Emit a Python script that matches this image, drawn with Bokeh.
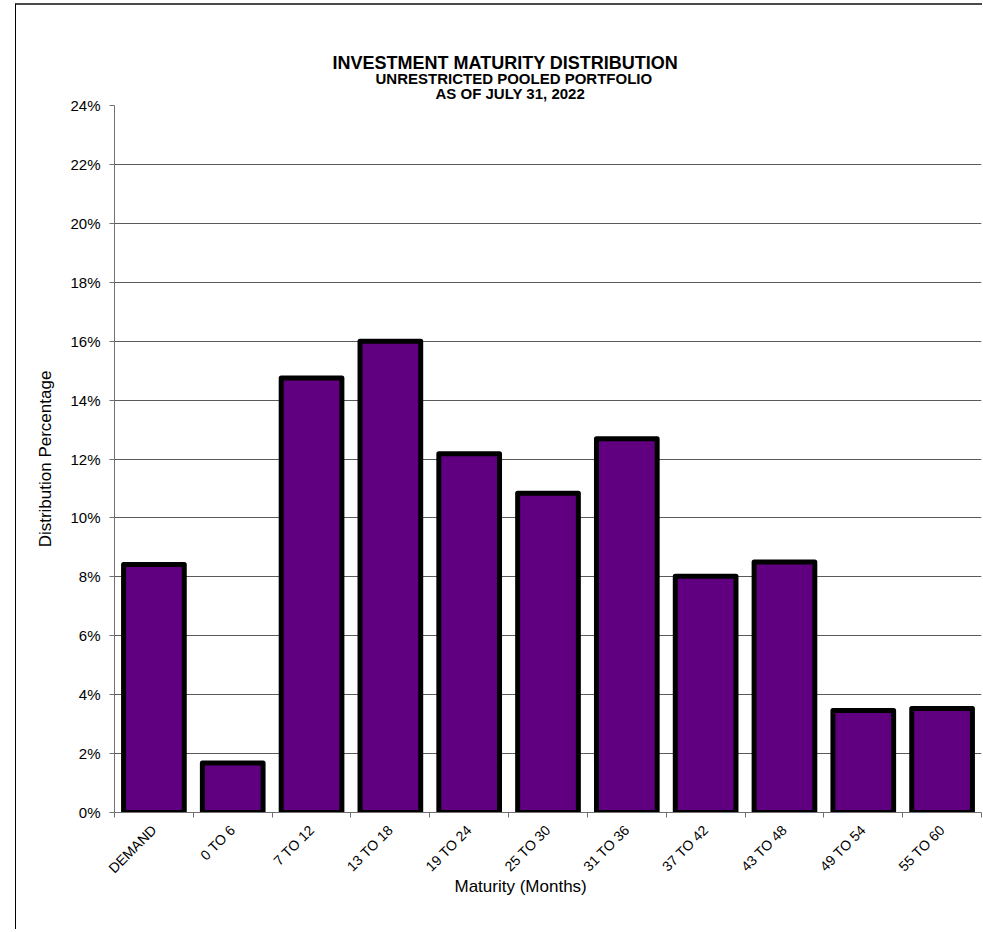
import math
from bokeh.plotting import figure
from bokeh.models import (Range1d, FixedTicker, CustomJSTickFormatter, PrintfTickFormatter,
                          Title, ColumnDataSource)
from bokeh.embed import file_html
from bokeh.resources import INLINE

# ---- data ----
categories = ["DEMAND", "0 TO 6", "7 TO 12", "13 TO 18", "19 TO 24", "25 TO 30",
              "31 TO 36", "37 TO 42", "43 TO 48", "49 TO 54", "55 TO 60"]
percentages = [8.42, 1.68, 14.75, 16.0, 12.18, 10.84, 12.69, 8.02, 8.50, 3.46, 3.53]
y_ticks = [0, 2, 4, 6, 8, 10, 12, 14, 16, 18, 20, 22, 24]
title_text = "INVESTMENT MATURITY DISTRIBUTION"
subtitle_1 = "UNRESTRICTED POOLED PORTFOLIO"
subtitle_2 = "AS OF JULY 31, 2022"
x_label = "Maturity (Months)"
y_label = "Distribution Percentage"

FONT = "Liberation Sans"
n = len(categories)
centers = [i + 0.5 for i in range(n)]
bounds = [float(i) for i in range(n + 1)]

src = ColumnDataSource(dict(x=centers, top=percentages, cat=categories))

p = figure(width=967, height=926, output_backend="svg", toolbar_location=None,
           x_range=Range1d(0, n), y_range=Range1d(0, 24),
           min_border_left=98, min_border_right=2, min_border_top=100,
           min_border_bottom=119,
           styles={"margin-left": "15px", "margin-top": "3px",
                   "border-top": "2px solid #4a4a4a",
                   "border-left": "1px solid #000000"})
p.outline_line_color = None
p.background_fill_color = "white"
p.border_fill_color = "white"

p.vbar(x="x", top="top", bottom=0, width=0.77, source=src,
       fill_color="#600080", line_color="#000000", line_width=5, line_join="round")

# x axis
xa = p.xaxis[0]
xa.ticker = FixedTicker(ticks=centers, minor_ticks=bounds)
xa.formatter = CustomJSTickFormatter(args=dict(labels=categories),
                                     code="const i = Math.floor(tick); return (i >= 0 && i < labels.length) ? labels[i] : '';")
xa.major_label_orientation = math.pi / 4
xa.major_tick_out = 0
xa.major_tick_in = 0
xa.minor_tick_out = 5
xa.minor_tick_in = 0
xa.minor_tick_line_color = "#707070"
xa.axis_line_color = "#707070"
xa.major_label_text_font = FONT
xa.major_label_text_font_size = "14px"
xa.major_label_text_color = "#000000"
xa.major_label_standoff = 10

# y axis
ya = p.yaxis[0]
ya.ticker = FixedTicker(ticks=y_ticks)
ya.formatter = PrintfTickFormatter(format="%d%%")
ya.major_tick_out = 5
ya.major_tick_in = 0
ya.minor_tick_out = 0
ya.minor_tick_in = 0
ya.axis_line_color = "#707070"
ya.major_tick_line_color = "#707070"
ya.major_label_text_font = FONT
ya.major_label_text_font_size = "15px"
ya.major_label_text_color = "#000000"
ya.major_label_standoff = 9
ya.axis_label = y_label
ya.axis_label_text_font = FONT
ya.axis_label_text_font_size = "17px"
ya.axis_label_text_font_style = "normal"
ya.axis_label_text_color = "#000000"
ya.axis_label_standoff = 12

p.xgrid.visible = False
p.ygrid.ticker = FixedTicker(ticks=y_ticks)
p.ygrid.grid_line_color = "#5a5a5a"
p.ygrid.grid_line_width = 1

# titles (closest to the frame first)
p.add_layout(Title(text=subtitle_2, align="left", offset=321, text_font=FONT,
                   text_font_size="15px", text_font_style="bold", text_color="#000000",
                   standoff=8), "above")
p.add_layout(Title(text=subtitle_1, align="left", offset=261, text_font=FONT,
                   text_font_size="15px", text_font_style="bold", text_color="#000000",
                   standoff=-16), "above")
p.add_layout(Title(text=title_text, align="left", offset=218, text_font=FONT,
                   text_font_size="18px", text_font_style="bold", text_color="#000000",
                   standoff=6), "above")
# x axis title
p.add_layout(Title(text=x_label, align="left", offset=340, text_font=FONT,
                   text_font_size="17px", text_font_style="normal", text_color="#000000",
                   standoff=-22), "below")

open("out.html", "w").write(file_html(p, INLINE))
